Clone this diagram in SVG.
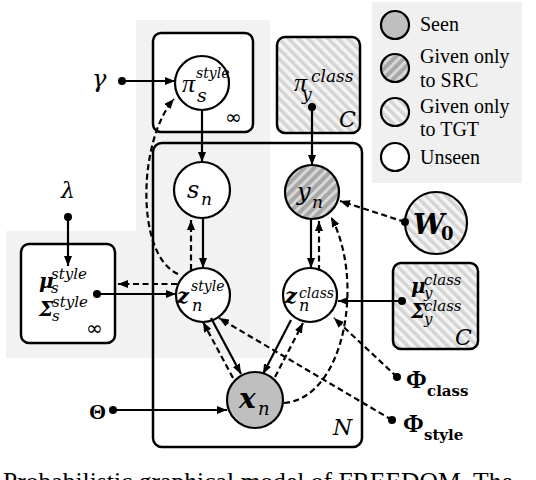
<svg xmlns="http://www.w3.org/2000/svg" width="536" height="480" viewBox="0 0 536 480">
<defs>
<pattern id="hl" width="7" height="7" patternUnits="userSpaceOnUse" patternTransform="rotate(-45)"><rect width="7" height="7" fill="#f4f4f4"/><rect width="3.5" height="7" fill="#d4d4d4"/></pattern>
<pattern id="hd" width="7" height="7" patternUnits="userSpaceOnUse" patternTransform="rotate(45)"><rect width="7" height="7" fill="#a8a8a8"/><rect width="3" height="7" fill="#d8d8d8"/></pattern>
<marker id="ah" viewBox="0 0 10 8" refX="10" refY="4" markerWidth="10" markerHeight="8" markerUnits="userSpaceOnUse" orient="auto"><path d="M0,0 L10,4 L0,8 z" fill="#000"/></marker>
</defs>
<style>
.plate{fill:#fff;stroke:#000;stroke-width:2.5}
.node{fill:#fff;stroke:#000;stroke-width:2.2}
.seen{fill:#bfbfbf}
.ln{fill:none;stroke:#000;stroke-width:2.2}
.ds{stroke-dasharray:6 3.5}
.dot{fill:#000}
.m{font-family:"DejaVu Serif",serif;font-style:italic;fill:#000}
.pi{font-family:"Liberation Serif",serif;font-style:italic;fill:#000}
.b{font-weight:bold}
.up{font-family:"DejaVu Serif",serif;font-weight:bold;fill:#000}
.phi{font-family:"Liberation Serif",serif;font-weight:bold;fill:#000}
.lg{font-family:"Liberation Serif",serif;font-size:20px;fill:#000}
.inf{font-family:"DejaVu Sans",sans-serif;font-size:20px;fill:#000}
</style>
<!-- backgrounds -->
<path d="M136 20 H270 V358 H6 V231 H136 Z" fill="#f2f2f2"/>
<rect x="372" y="2" width="150" height="181" fill="#f0f0f0"/>

<g id="plate-N"><rect class="plate" x="153" y="143" width="209" height="304" rx="9" style="fill:none"/><text class="m" x="333" y="435" font-size="22">N</text></g>

<g id="plate-pi-style"><rect class="plate" x="153" y="33" width="100" height="99" rx="8"/><text class="inf" x="225" y="124">∞</text></g>
<g id="plate-pi-class"><rect class="plate" x="277" y="37" width="83" height="96" rx="8" style="fill:url(#hl)"/><text class="pi" x="294" y="91" font-size="26">π</text><text class="m" x="311" y="82" font-size="17">class</text><text class="m" x="302" y="100" font-size="17">y</text><text class="m" x="339" y="127" font-size="22">C</text></g>
<g id="plate-mu-style"><rect class="plate" x="21" y="244" width="94" height="99" rx="8"/><text class="m b" x="39" y="288" font-size="20">μ</text><text class="m" x="51" y="279" font-size="15">style</text><text class="m" x="51" y="293" font-size="15">s</text><text class="m b" x="39" y="316" font-size="20">Σ</text><text class="m" x="52" y="307" font-size="15">style</text><text class="m" x="52" y="321" font-size="15">s</text><text class="inf" x="86" y="335">∞</text></g>
<g id="plate-mu-class"><rect class="plate" x="393" y="263" width="85" height="86" rx="8" style="fill:url(#hl)"/><text class="m b" x="411" y="293" font-size="20">μ</text><text class="m" x="424" y="285" font-size="15">class</text><text class="m" x="424" y="298" font-size="15">y</text><text class="m b" x="411" y="318" font-size="20">Σ</text><text class="m" x="424" y="311" font-size="15">class</text><text class="m" x="424" y="324" font-size="15">y</text><text class="m" x="455" y="345" font-size="22">C</text></g>

<g id="node-pi-s"><circle class="node" cx="202" cy="83" r="27"/><text class="pi" x="182" y="92" font-size="26">π</text><text class="m" x="196" y="78" font-size="14">style</text><text class="m" x="197" y="102" font-size="19">s</text></g>
<g id="node-s-n"><circle class="node" cx="202" cy="190" r="28"/><text class="m" x="187" y="198" font-size="24">s</text><text class="m" x="201" y="205" font-size="17">n</text></g>
<g id="node-y-n"><circle class="node" cx="312" cy="192" r="27" style="fill:url(#hd)"/><text class="m" x="297" y="200" font-size="24">y</text><text class="m" x="312" y="208" font-size="17">n</text></g>
<g id="node-z-style"><circle class="node" cx="203" cy="295" r="27"/><text class="m b" x="177" y="303" font-size="21">z</text><text class="m" x="191" y="291" font-size="14">style</text><text class="m" x="192" y="311" font-size="16">n</text></g>
<g id="node-z-class"><circle class="node" cx="310" cy="295" r="27"/><text class="m b" x="285" y="303" font-size="21">z</text><text class="m" x="299" y="298" font-size="14">class</text><text class="m" x="299" y="311" font-size="16">n</text></g>
<g id="node-x-n"><circle class="node seen" cx="255" cy="400" r="28"/><text class="m b" x="239" y="408" font-size="28">x</text><text class="m" x="258" y="415" font-size="18">n</text></g>
<g id="node-W0"><circle class="node" cx="436" cy="223" r="31" style="fill:url(#hl)"/><text class="m b" x="413" y="234" font-size="28">W</text><text class="up" x="441" y="240" font-size="18">0</text></g>

<g id="param-gamma"><text class="m" x="92" y="87" font-size="24">γ</text></g>
<g id="param-lambda"><text class="m" x="61" y="198" font-size="22">λ</text></g>
<g id="param-theta"><text class="phi" x="89" y="419" font-size="22">Θ</text></g>
<g id="param-phi-class"><text class="phi" x="406" y="388" font-size="25">Φ</text><text class="up" x="427" y="396" font-size="15">class</text></g>
<g id="param-phi-style"><text class="phi" x="403" y="432" font-size="25">Φ</text><text class="up" x="424" y="440" font-size="15">style</text></g>

<g id="connectors">
<circle class="dot" cx="122" cy="81" r="4"/><path class="ln" d="M122 81 H175" marker-end="url(#ah)"/>
<path class="ln" d="M202 110 V162" marker-end="url(#ah)"/>
<circle class="dot" cx="312" cy="107" r="4"/><path class="ln" d="M312 107 V165" marker-end="url(#ah)"/>
<path class="ln" d="M203 218 V268" marker-end="url(#ah)"/>
<path class="ln ds" d="M191 270 V220" marker-end="url(#ah)"/>
<path class="ln" d="M311 219 V268" marker-end="url(#ah)"/>
<path class="ln ds" d="M319 271 V221" marker-end="url(#ah)"/>
<circle class="dot" cx="68" cy="217" r="4"/><path class="ln" d="M68 217 V266" marker-end="url(#ah)"/>
<circle class="dot" cx="97" cy="294" r="4"/><path class="ln" d="M97 294 H176" marker-end="url(#ah)"/>
<path class="ln ds" d="M177 284 H118" marker-end="url(#ah)"/>
<circle class="dot" cx="402" cy="301" r="4"/><path class="ln" d="M402 301 H338" marker-end="url(#ah)"/>
<circle class="dot" cx="405" cy="222" r="4"/><path class="ln ds" d="M405 222 L340 201" marker-end="url(#ah)"/>
<path class="ln" d="M211 318 L241 374" marker-end="url(#ah)"/>
<path class="ln ds" d="M233 378 L203 322" marker-end="url(#ah)"/>
<path class="ln" d="M291 320 L263 374" marker-end="url(#ah)"/>
<path class="ln ds" d="M275 377 L303 323" marker-end="url(#ah)"/>
<circle class="dot" cx="113" cy="410" r="4"/><path class="ln" d="M113 410 H227" marker-end="url(#ah)"/>
<circle class="dot" cx="392" cy="420" r="4"/><path class="ln ds" d="M392 420 L219 318" marker-end="url(#ah)"/>
<circle class="dot" cx="397" cy="377" r="4"/><path class="ln ds" d="M397 377 L334 318" marker-end="url(#ah)"/>
<path class="ln ds" d="M178 274 C135 255, 138 140, 174 99" marker-end="url(#ah)"/>
<path class="ln ds" d="M284 403 C345 398, 365 280, 331 217" marker-end="url(#ah)"/>
</g>

<g id="legend">
<circle class="node seen" cx="395" cy="25" r="14"/><text class="lg" x="420" y="31">Seen</text>
<circle class="node" cx="395" cy="68" r="14" style="fill:url(#hd)"/><text class="lg" x="420" y="63">Given only</text><text class="lg" x="420" y="87">to SRC</text>
<circle class="node" cx="395" cy="112" r="14" style="fill:url(#hl)"/><text class="lg" x="420" y="113">Given only</text><text class="lg" x="420" y="136">to TGT</text>
<circle class="node" cx="395" cy="157" r="14"/><text class="lg" x="420" y="164">Unseen</text>
</g>

<text x="3" y="490" font-family="Liberation Serif, serif" font-size="25.6" fill="#000">Probabilistic graphical model of FREEDOM. The</text>
</svg>
